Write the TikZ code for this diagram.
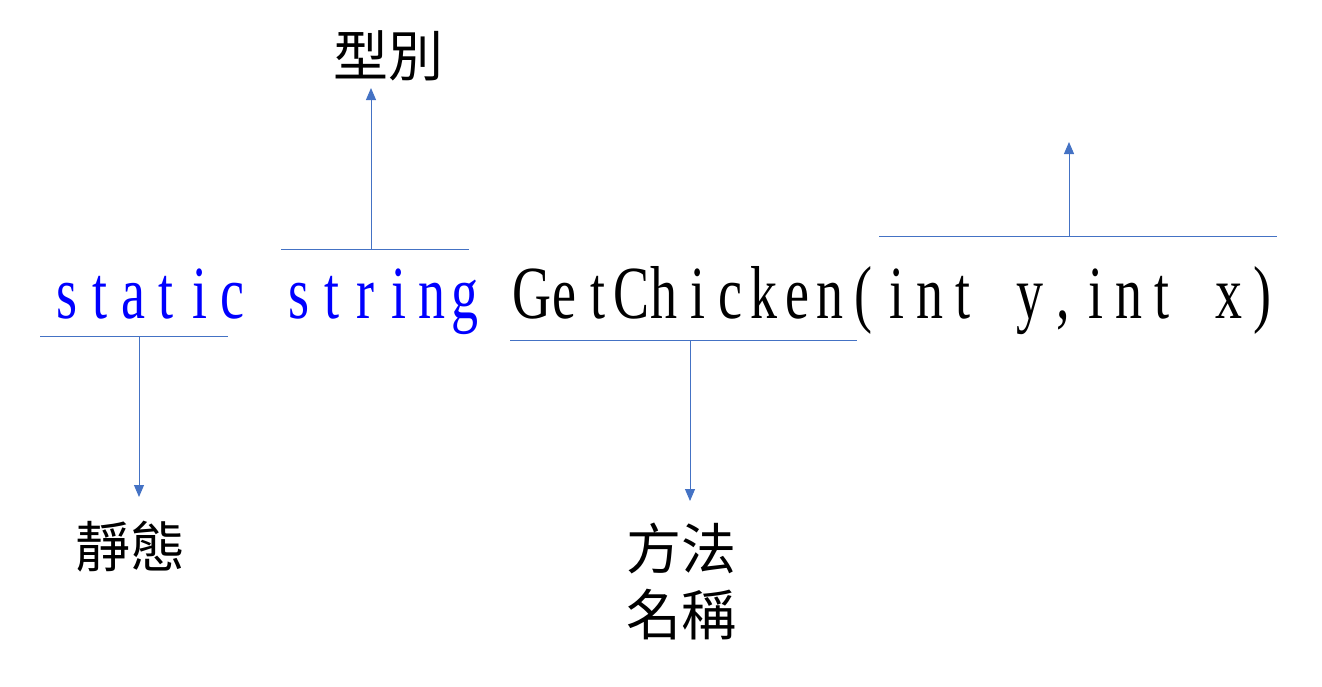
\documentclass[tikz,border=0pt]{standalone}
\usepackage{fontspec}
\usetikzlibrary{arrows.meta, positioning}
\newfontfamily\codefont[FakeStretch=0.72]{Liberation Serif}
\newfontfamily\cjkfont{Noto Sans CJK TC}
\definecolor{kwblue}{RGB}{0,0,255}
\definecolor{linkblue}{RGB}{68,114,196}
% fixed pitch for the code line
\newlength\cellw \setlength\cellw{33.2pt}
\makeatletter
\newcommand\cellrow[1]{\@tfor\cellch:=#1\do{\makebox[\cellw][c]{\cellch}}}
\makeatother
\tikzstyle{codetext} = [inner sep=0pt, anchor=base west, font=\codefont\fontsize{75}{80}\selectfont]
\tikzstyle{cjktext} = [inner sep=0pt, font=\cjkfont\fontsize{55}{66}\selectfont, align=center]
\tikzstyle{bracket} = [draw=linkblue, line width=1pt]
\tikzstyle{arrow} = [draw=linkblue, line width=1pt, -{Triangle[length=12pt,width=10pt]}]
\begin{document}
\begin{tikzpicture}[x=1pt, y=-1pt]
    \useasboundingbox (0,0) rectangle (1322,686);
    % code line
    \node (kwstatic) [codetext, text=kwblue] at (50,318) {\cellrow{static}};
    \node (kwstring) [codetext, text=kwblue] at (282.4,318) {\cellrow{string}};
    \node (method) [codetext] at (514.8,318) {\cellrow{GetChicken}};
    \node (params) [codetext] at (846.8,318) {\cellrow{(int~y,int~x)}};

    % labels
    \node (lbstatic) [cjktext] at (130,547) {靜態};
    \node (lbtype) [cjktext] at (388,56) {型別};
    \node (lbmethod) [cjktext] at (681,581) {方法\\名稱};

    % brackets and arrows
    \coordinate (sL) at (40,336);   \coordinate (sR) at (228,336);
    \coordinate (sFoot) at (139,336); \coordinate (sTip) at (139,497);
    \coordinate (tL) at (281,249);  \coordinate (tR) at (469,249);
    \coordinate (tFoot) at (371,249); \coordinate (tTip) at (371,88);
    \coordinate (mL) at (510,340);  \coordinate (mR) at (857,340);
    \coordinate (mFoot) at (690,340); \coordinate (mTip) at (690,501);
    \coordinate (pL) at (879,236);  \coordinate (pR) at (1277,236);
    \coordinate (pFoot) at (1069,236); \coordinate (pTip) at (1069,142);

    \draw [bracket] (sL) -- (sR);
    \draw [bracket] (tL) -- (tR);
    \draw [bracket] (mL) -- (mR);
    \draw [bracket] (pL) -- (pR);
    \draw [arrow] (sFoot) -- (sTip);
    \draw [arrow] (tFoot) -- (tTip);
    \draw [arrow] (mFoot) -- (mTip);
    \draw [arrow] (pFoot) -- (pTip);
\end{tikzpicture}
\end{document}
